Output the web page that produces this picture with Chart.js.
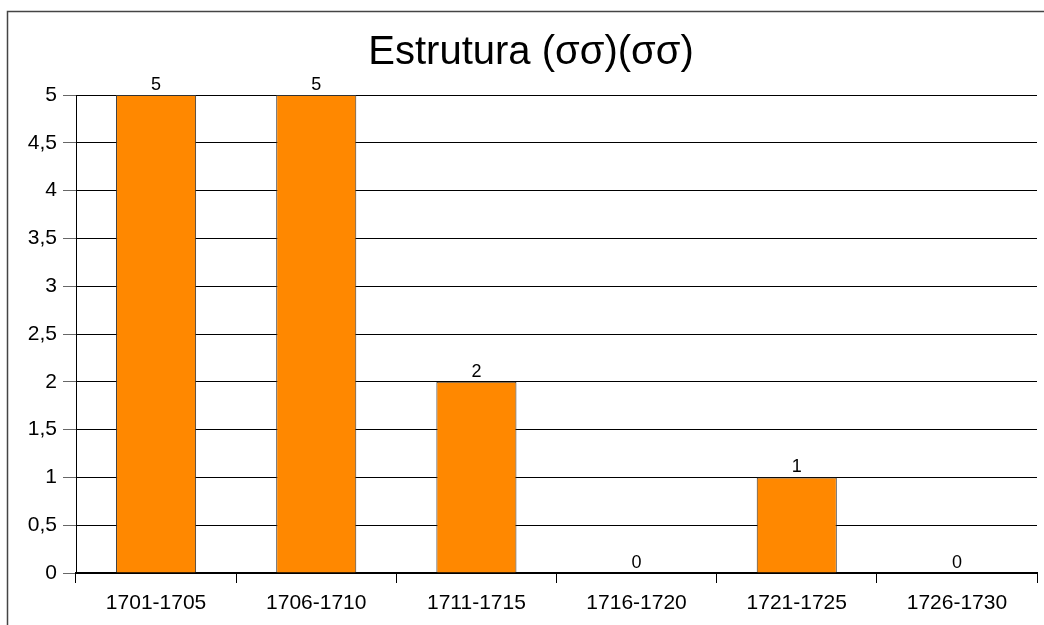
<!DOCTYPE html>
<html>
<head>
<meta charset="utf-8">
<script src="https://cdn.jsdelivr.net/npm/chart.js@4/dist/chart.umd.min.js"></script>
<style>
  html, body { margin: 0; padding: 0; background: #fff; }
  #wrap { width: 1044px; height: 625px; position: relative; }
</style>
</head>
<body>
<div id="wrap"><canvas id="myChart"></canvas></div>
<script>
let categories = ['1701-1705', '1706-1710', '1711-1715', '1716-1720', '1721-1725', '1726-1730']
let values = [5, 5, 2, 0, 1, 0]
let yMin = 0
let yMax = 5
let yStep = 0.5
let chartTitle = 'Estrutura (σσ)(σσ)'

const fontFamily = '"Liberation Sans", Arial, sans-serif'

// outer frame, like the spreadsheet chart border
const framePlugin = {
    id: 'frame',
    beforeDraw: (chart) => {
        const {ctx} = chart
        ctx.save()
        ctx.fillStyle = '#fff'
        ctx.fillRect(0, 0, chart.width, chart.height)
        ctx.strokeStyle = '#444'
        ctx.lineWidth = 1.5
        ctx.strokeRect(7.5, 11.5, 2000, 2000)
        ctx.restore()
    }
}

// numbers above the bars
const valueLabels = {
    id: 'valueLabels',
    afterDatasetsDraw: (chart) => {
        const {ctx} = chart
        const meta = chart.getDatasetMeta(0)
        ctx.save()
        ctx.font = '18px ' + fontFamily
        ctx.fillStyle = '#000'
        ctx.textAlign = 'center'
        ctx.textBaseline = 'alphabetic'
        meta.data.forEach((bar, i) => {
            ctx.fillText(String(values[i]), bar.x, bar.y - 5)
        })
        ctx.restore()
    }
}

const ctx = document.getElementById('myChart')

new Chart(ctx, {
    type: 'bar',
    data: {
        labels: categories,
        datasets: [{
            data: values,
            backgroundColor: '#ff8800',
            borderColor: '#333',
            borderWidth: 1,
            barPercentage: 0.5,
            categoryPercentage: 1
        }]
    },
    options: {
        responsive: true,
        maintainAspectRatio: false,
        animation: false,
        layout: {
            padding: { left: 25, right: 7, top: 0, bottom: 0 }
        },
        plugins: {
            legend: { display: false },
            tooltip: { enabled: false },
            title: {
                display: true,
                text: chartTitle,
                color: '#000',
                font: { family: fontFamily, size: 40, weight: 'normal' },
                padding: { top: 29, bottom: 18 }
            }
        },
        scales: {
            x: {
                offset: true,
                grid: {
                    display: true,
                    drawOnChartArea: false,
                    drawTicks: true,
                    tickLength: 10,
                    color: '#000',
                    offset: true
                },
                border: { display: true, color: '#000', width: 2 },
                ticks: {
                    color: '#000',
                    padding: 8,
                    font: { family: fontFamily, size: 21 }
                },
                afterFit: (scale) => { scale.height = 52 }
            },
            y: {
                min: yMin,
                max: yMax,
                grid: {
                    color: '#000',
                    lineWidth: 1,
                    tickLength: 13,
                    tickColor: '#666'
                },
                border: { display: true, color: '#000', width: 1 },
                ticks: {
                    stepSize: yStep,
                    color: '#000',
                    padding: 6,
                    font: { family: fontFamily, size: 21 },
                    callback: (v) => String(v).replace('.', ',')
                },
                afterFit: (scale) => { scale.width = 51 }
            }
        }
    },
    plugins: [framePlugin, valueLabels]
})
</script>
</body>
</html>
